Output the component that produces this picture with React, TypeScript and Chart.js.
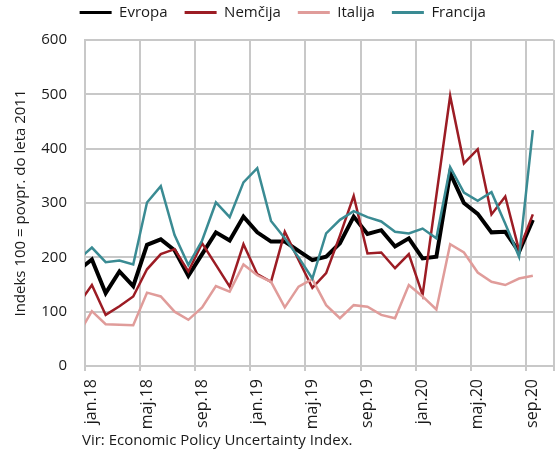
import React, { useEffect, useRef } from "react";
import { Chart, registerables } from "chart.js";

Chart.register(...registerables);

// Months shown on the axis: jan.18 ... okt.20 (34 slots); first value is dec.17 (clipped at the left edge)
const xTickLabels = ["jan.18", "maj.18", "sep.18", "jan.19", "maj.19", "sep.19", "jan.20", "maj.20", "sep.20"];
const monthSlots = 34;

const evropa = [176, 196, 134, 174, 147, 223, 233, 213, 166, 206, 246, 231, 275, 246, 229, 229, 212, 195, 201, 226, 275, 243, 250, 220, 235, 198, 201, 355, 300, 280, 246, 247, 210, 269];
const nemcija = [113, 149, 94, 110, 128, 178, 206, 215, 174, 226, 186, 146, 224, 169, 155, 247, 195, 144, 171, 240, 313, 207, 209, 180, 206, 131, 314, 497, 373, 399, 279, 312, 213, 279];
const italija = [57, 101, 77, 76, 75, 135, 128, 100, 85, 108, 147, 137, 187, 167, 155, 108, 146, 160, 112, 88, 112, 109, 94, 88, 149, 128, 104, 224, 209, 172, 155, 149, 161, 166];
const francija = [196, 218, 191, 194, 187, 301, 331, 241, 186, 231, 301, 274, 338, 364, 267, 235, 200, 161, 244, 269, 285, 274, 266, 247, 244, 253, 235, 366, 319, 304, 320, 262, 201, 434];

const yTicks = [0, 100, 200, 300, 400, 500, 600];

const FONT = "'Open Sans', 'Noto Sans', sans-serif";
const GRID = "#c8c8c8";
const TEXT = "#1a1a1a";

const toPoints = (arr: number[]) => arr.map((v, i) => ({ x: i - 1, y: v }));

export default function App() {
  const ref = useRef<HTMLCanvasElement>(null);

  useEffect(() => {
    if (!ref.current) return;
    const sourcePlugin = {
      id: "sourceNote",
      afterInit(chart: any) {
        const lg = chart.legend;
        if (lg) {
          const origFit = lg.fit.bind(lg);
          lg.fit = () => {
            origFit();
            lg.height = 40;
          };
          const origDraw = lg.draw.bind(lg);
          lg.draw = () => {
            const t = lg.top;
            const l = lg.left;
            const r = lg.right;
            lg.top = t - 12;
            lg.left = l + 6;
            lg.right = r + 6;
            origDraw();
            lg.top = t;
            lg.left = l;
            lg.right = r;
          };
        }
      },
      afterDraw(chart: any) {
        const ctx = chart.ctx;
        ctx.save();
        ctx.font = `15px ${FONT}`;
        ctx.fillStyle = TEXT;
        ctx.textAlign = "left";
        ctx.textBaseline = "middle";
        ctx.fillText("Vir: Economic Policy Uncertainty Index.", chart.chartArea.left - 3, 441);
        ctx.restore();
      },
    };

    const mk = (label: string, data: number[], color: string, width: number, order: number) => ({
      label,
      data: toPoints(data),
      borderColor: color,
      backgroundColor: color,
      borderWidth: width,
      pointRadius: 0,
      tension: 0,
      clip: 0,
      order,
    });

    const chart = new Chart(ref.current, {
      type: "line",
      data: {
        datasets: [
          mk("Evropa", evropa, "#000000", 4, 3),
          mk("Nemčija", nemcija, "#9c1c24", 2.5, 2),
          mk("Italija", italija, "#e09c9a", 2.5, 1),
          mk("Francija", francija, "#3a8b93", 2.5, 0),
        ],
      },
      options: {
        responsive: false,
        animation: false,
        layout: { padding: { left: 0, right: 5.5, top: 0, bottom: 0 } },
        plugins: {
          tooltip: { enabled: false },
          legend: {
            position: "top",
            labels: {
              font: { family: FONT, size: 15 },
              color: TEXT,
              boxWidth: 32,
              boxHeight: 3,
              padding: 17,
              sort: (a: any, b: any) => a.datasetIndex - b.datasetIndex,
              generateLabels: (ch: any) =>
                ch.data.datasets.map((ds: any, i: number) => ({
                  text: ds.label,
                  fillStyle: ds.borderColor,
                  strokeStyle: ds.borderColor,
                  lineWidth: 0,
                  fontColor: TEXT,
                  hidden: false,
                  datasetIndex: i,
                })),
            },
          },
        },
        scales: {
          x: {
            type: "linear",
            min: -0.5,
            max: monthSlots - 0.5,
            afterBuildTicks: (scale: any) => {
              const t: any[] = [];
              for (let k = 0; k < xTickLabels.length; k++) t.push({ value: k * 4 - 0.5 });
              t.push({ value: monthSlots - 0.5 });
              scale.ticks = t;
            },
            afterFit: (scale: any) => {
              scale.height = 90;
              scale.paddingLeft = 0;
              scale.paddingRight = 0;
            },
            ticks: {
              autoSkip: false,
              minRotation: 90,
              maxRotation: 90,
              labelOffset: 6.9,
              padding: 8,
              color: TEXT,
              font: { family: FONT, size: 16 },
              callback: (v: any) => {
                const idx = Math.round((Number(v) + 0.5) / 4);
                return Number(v) < monthSlots - 1 ? xTickLabels[idx] ?? "" : "";
              },
            },
            grid: { color: GRID, lineWidth: 2, drawTicks: true, tickLength: 5 },
            border: { color: GRID, width: 2 },
          },
          y: {
            min: 0,
            max: 600,
            afterBuildTicks: (scale: any) => {
              scale.ticks = yTicks.map((v) => ({ value: v }));
            },
            afterFit: (scale: any) => {
              scale.width = 85;
            },
            ticks: {
              color: TEXT,
              padding: 18,
              font: { family: FONT, size: 15 },
            },
            grid: { color: GRID, lineWidth: 2, drawTicks: false },
            border: { color: GRID, width: 2 },
            title: {
              display: true,
              text: "Indeks 100 = povpr. do leta 2011",
              color: TEXT,
              font: { family: FONT, size: 15 },
              padding: { top: 12, bottom: 0 },
            },
          },
        },
      },
      plugins: [sourcePlugin],
    });
    return () => chart.destroy();
  }, []);

  return (
    <div style={{ position: "absolute", left: 0, top: 0, width: 559, height: 456, background: "#fff" }}>
      <canvas ref={ref} width={559} height={456} />
    </div>
  );
}
